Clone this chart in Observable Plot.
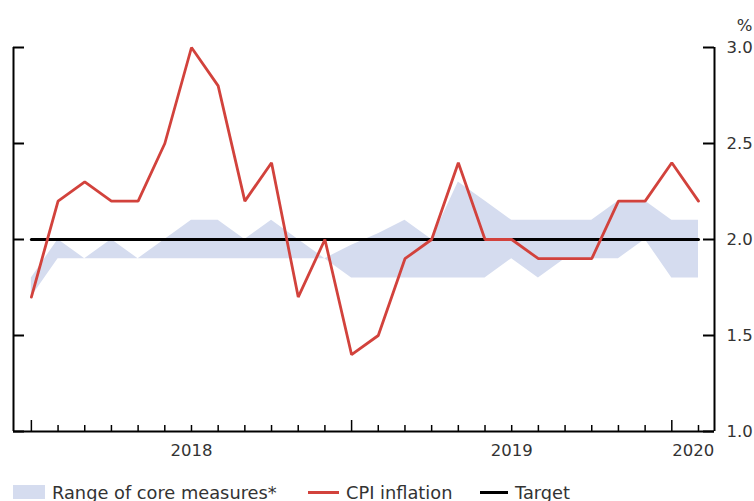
<!DOCTYPE html>
<html>
<head>
<meta charset="utf-8">
<script src="https://cdn.jsdelivr.net/npm/d3@7"></script>
<script src="https://cdn.jsdelivr.net/npm/@observablehq/plot@0.6"></script>
<style>
  html, body { margin: 0; padding: 0; background: #fff; }
  body { font-family: "DejaVu Sans", sans-serif; color: #333; }
  #wrap { position: relative; width: 754px; height: 501px; overflow: hidden; }
  #legend { position: relative; height: 31px; font-size: 17.8px; color: #333; }
  #legend .item { position: absolute; top: 12px; height: 20px; display: flex; align-items: center; white-space: nowrap; }
  #legend .swatch { width: 32px; height: 14px; margin-right: 7px; }
  #legend .line { height: 3px; margin-right: 7px; }
</style>
</head>
<body>
<div id="wrap">
  <div id="chart"></div>
  <div id="legend"></div>
</div>
<script>
// ---- Data ----
const months = ["2018-01","2018-02","2018-03","2018-04","2018-05","2018-06","2018-07","2018-08","2018-09","2018-10","2018-11","2018-12",
                "2019-01","2019-02","2019-03","2019-04","2019-05","2019-06","2019-07","2019-08","2019-09","2019-10","2019-11","2019-12",
                "2020-01","2020-02"];
const cpi      = [1.7, 2.2, 2.3, 2.2, 2.2, 2.5, 3.0, 2.8, 2.2, 2.4, 1.7, 2.0,
                  1.4, 1.5, 1.9, 2.0, 2.4, 2.0, 2.0, 1.9, 1.9, 1.9, 2.2, 2.2,
                  2.4, 2.2];
const coreLow  = [1.7, 1.9, 1.9, 1.9, 1.9, 1.9, 1.9, 1.9, 1.9, 1.9, 1.9, 1.9,
                  1.8, 1.8, 1.8, 1.8, 1.8, 1.8, 1.9, 1.8, 1.9, 1.9, 1.9, 2.0,
                  1.8, 1.8];
const coreHigh = [1.8, 2.0, 1.9, 2.0, 1.9, 2.0, 2.1, 2.1, 2.0, 2.1, 2.0, 1.9,
                  1.97, 2.03, 2.1, 2.0, 2.3, 2.2, 2.1, 2.1, 2.1, 2.1, 2.2, 2.2,
                  2.1, 2.1];
const targetValue = 2.0;
const yTicks = [1.0, 1.5, 2.0, 2.5, 3.0];
const yearLabels = ["2018", "2019", "2020"];
const seriesNames = ["Range of core measures*", "CPI inflation", "Target"];

// ---- Styles / layout ----
const W = 754, H = 470;
const mTop = 47, mBottom = 39, mLeft = 13, mRight = 40;
const plotW = W - mLeft - mRight, plotH = H - mTop - mBottom;
const xDomain = [-0.67, months.length - 1 + 0.6];
const bandColor = "#d5dcef";
const red = "#d2423c";

const rows = months.map((m, i) => ({
  i, month: m, year: +m.slice(0, 4), jan: m.endsWith("-01"),
  cpi: cpi[i], low: coreLow[i], high: coreHigh[i], target: targetValue
}));

// Year labels centred on each year's visible span (Jan tick to next Jan tick / axis end)
const yearData = yearLabels.map(y => {
  const start = rows.find(r => r.year === +y && r.jan);
  const next = rows.find(r => r.year === +y + 1 && r.jan);
  const a = start ? start.i : xDomain[0];
  const b = next ? next.i : xDomain[1];
  return { year: y, pos: (a + b) / 2 };
});

const chart = Plot.plot({
  width: W, height: H,
  marginTop: mTop, marginBottom: mBottom, marginLeft: mLeft, marginRight: mRight,
  style: { fontFamily: "DejaVu Sans, sans-serif", fontSize: "16.5px", color: "#333", background: "#fff", overflow: "visible" },
  x: { type: "linear", domain: xDomain, axis: null },
  y: { domain: [1, 3], axis: null },
  marks: [
    Plot.areaY(rows, { x: "i", y1: "low", y2: "high", fill: bandColor, curve: "linear" }),
    Plot.lineY(rows, { x: "i", y: "target", stroke: "#000", strokeWidth: 3 }),
    Plot.lineY(rows, { x: "i", y: "cpi", stroke: red, strokeWidth: 2.8, strokeLinejoin: "miter" }),
    // frame: left, right, bottom
    Plot.ruleX(xDomain, { stroke: "#000", strokeWidth: 2 }),
    Plot.ruleY([1], { stroke: "#000", strokeWidth: 2 }),
    // month ticks (inward) on bottom axis
    Plot.tickX(rows.filter(r => !r.jan), { x: "i", insetTop: plotH - 6, stroke: "#000", strokeWidth: 1.5 }),
    Plot.tickX(rows.filter(r => r.jan), { x: "i", insetTop: plotH - 11, stroke: "#000", strokeWidth: 1.5 }),
    // y ticks inward on left and right
    Plot.tickY(yTicks, { y: d => d, insetRight: plotW - 11, stroke: "#000", strokeWidth: 2 }),
    Plot.tickY(yTicks, { y: d => d, insetLeft: plotW - 11, stroke: "#000", strokeWidth: 2 }),
    // y tick labels on the right
    Plot.axisY(yTicks, { anchor: "right", tickSize: 0, tickPadding: 12, tickFormat: d => d.toFixed(1), label: null, fontSize: 16.5 }),
    Plot.text(["%"], { frameAnchor: "top-right", dx: 30, dy: -28, text: d => d, textAnchor: "middle", fontSize: 16.5, fill: "#333" }),
    // year labels
    Plot.text(yearData, { x: "pos", text: "year", frameAnchor: "bottom", dy: 19, lineAnchor: "middle", fontSize: 16.5, fill: "#333" })
  ]
});
document.getElementById("chart").appendChild(chart);

// ---- Legend ----
const legend = document.getElementById("legend");
const items = [
  { name: seriesNames[0], kind: "swatch", color: bandColor, left: 13 },
  { name: seriesNames[1], kind: "line", color: red, left: 308, w: 31 },
  { name: seriesNames[2], kind: "line", color: "#000", left: 480, w: 28 }
];
items.forEach(it => {
  const d = document.createElement("div");
  d.className = "item";
  d.style.left = it.left + "px";
  const s = document.createElement("span");
  if (it.kind === "swatch") { s.className = "swatch"; s.style.background = it.color; }
  else { s.className = "line"; s.style.background = it.color; s.style.width = it.w + "px"; }
  d.appendChild(s);
  const t = document.createElement("span");
  t.textContent = it.name;
  d.appendChild(t);
  legend.appendChild(d);
});
</script>
</body>
</html>
